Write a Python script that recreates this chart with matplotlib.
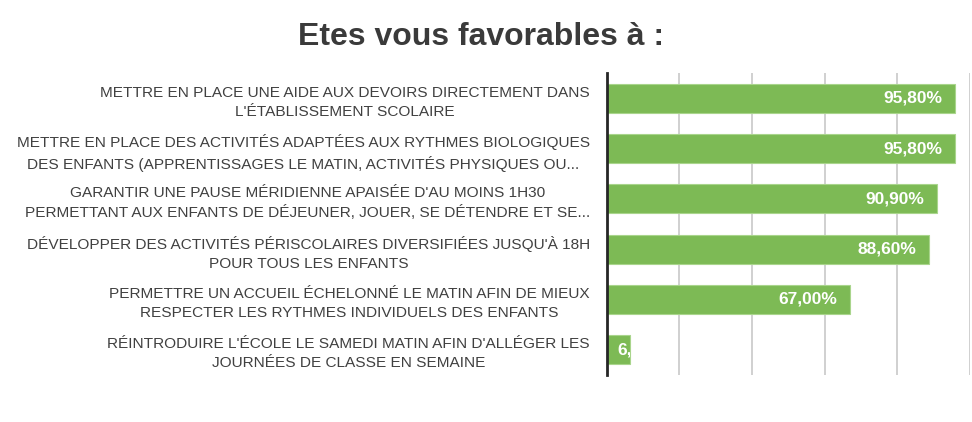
import matplotlib.pyplot as plt
import numpy as np

# data
labels = [
    "METTRE EN PLACE UNE AIDE AUX DEVOIRS DIRECTEMENT DANS\nL'ÉTABLISSEMENT SCOLAIRE",
    "METTRE EN PLACE DES ACTIVITÉS ADAPTÉES AUX RYTHMES BIOLOGIQUES\nDES ENFANTS (APPRENTISSAGES LE MATIN, ACTIVITÉS PHYSIQUES OU...",
    "GARANTIR UNE PAUSE MÉRIDIENNE APAISÉE D'AU MOINS 1H30\nPERMETTANT AUX ENFANTS DE DÉJEUNER, JOUER, SE DÉTENDRE ET SE...",
    "DÉVELOPPER DES ACTIVITÉS PÉRISCOLAIRES DIVERSIFIÉES JUSQU'À 18H\nPOUR TOUS LES ENFANTS",
    "PERMETTRE UN ACCUEIL ÉCHELONNÉ LE MATIN AFIN DE MIEUX\nRESPECTER LES RYTHMES INDIVIDUELS DES ENFANTS",
    "RÉINTRODUIRE L'ÉCOLE LE SAMEDI MATIN AFIN D'ALLÉGER LES\nJOURNÉES DE CLASSE EN SEMAINE",
]
values = [95.8, 95.8, 90.9, 88.6, 67.0, 6.4]
value_labels = ["95,80%", "95,80%", "90,90%", "88,60%", "67,00%", "6,40%"]
xticks = [0, 20, 40, 60, 80, 100]

green = "#7dba55"
text_grey = "#404040"

plt.rcParams['font.family'] = ['Liberation Sans', 'DejaVu Sans']

fig = plt.figure(figsize=(9.72, 4.22), dpi=100)
ax = fig.add_axes([0.6242, 0.1114, 0.3738, 0.7156])

y = np.arange(len(labels))
bars = ax.barh(y, values, height=0.58, color=green, edgecolor="#a9d58c", linewidth=0.8, zorder=3)

ax.set_xlim(0, 100)
ax.set_ylim(len(labels) - 0.5, -0.5)
ax.set_xticks(xticks)
ax.set_xticklabels([])
ax.grid(axis="x", color="#d0d0d0", linewidth=1.4, zorder=0)
ax.tick_params(axis="both", length=0)
ax.set_yticks(y)
ax.set_yticklabels(labels, fontsize=11.1, color=text_grey, multialignment="center", linespacing=1.45)
ax.tick_params(axis="y", pad=12)

for s in ["top", "right", "bottom"]:
    ax.spines[s].set_visible(False)
ax.spines["left"].set_color("#262626")
ax.spines["left"].set_linewidth(2)
ax.spines["left"].set_zorder(4)

# value labels inside bar ends, clipped to the bar
for bar, v, lab in zip(bars, values, value_labels):
    yc = bar.get_y() + bar.get_height() / 2
    if v > 20:
        t = ax.annotate(lab, xy=(v, yc), xytext=(-9, 0), textcoords="offset points",
                        ha="right", va="center", color="white", fontsize=12.5, fontweight="bold", zorder=5)
    else:
        t = ax.annotate(lab, xy=(0, yc), xytext=(8, 0), textcoords="offset points",
                        ha="left", va="center", color="white", fontsize=12.5, fontweight="bold", zorder=5)
    t.set_clip_path(bar)

fig.text(0.495, 0.912, "Etes vous favorables à :", ha="center", va="center",
         fontsize=23, fontweight="bold", color="#3a3a3a")

plt.savefig("out.png", dpi=100)
